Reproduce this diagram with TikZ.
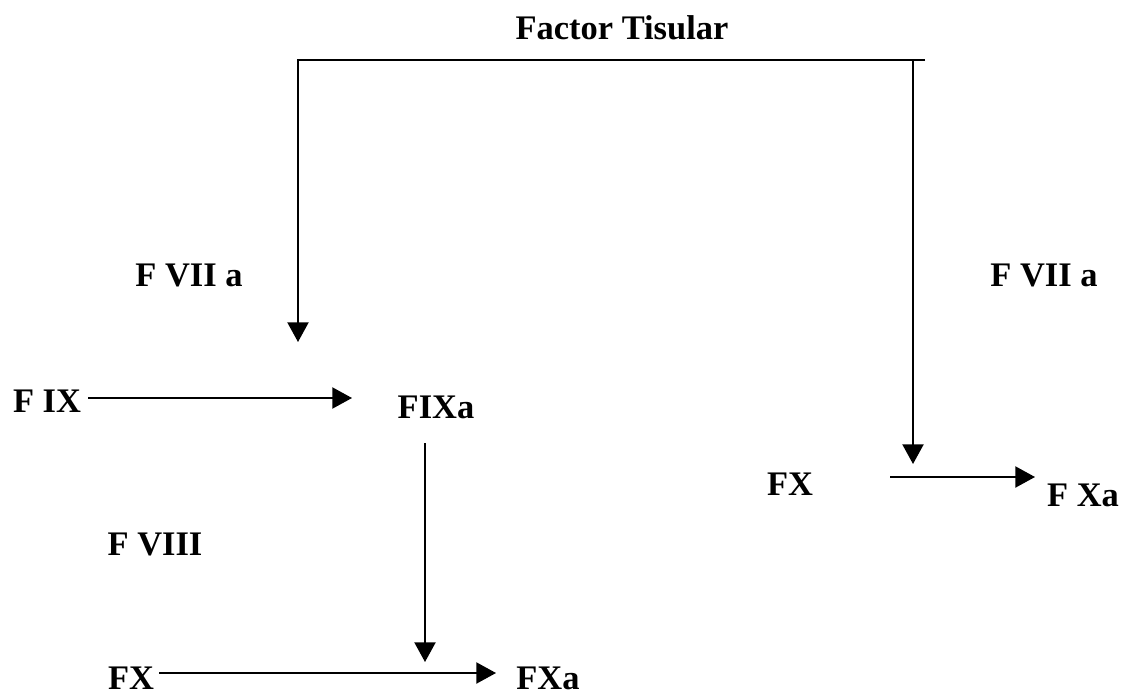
\documentclass[tikz,border=0pt]{standalone}
\usepackage{fontspec}
\setmainfont{Liberation Serif}
\usetikzlibrary{arrows.meta}

\begin{document}
\begin{tikzpicture}[
    x=0.025cm, y=-0.025cm,
    every node/.style={font=\bfseries\fontsize{24.5}{28}\selectfont, inner sep=0pt, anchor=base},
    arrow/.style={-{Triangle[length=14pt, width=15pt]}, line width=1.3pt}
]
\useasboundingbox (0,0) rectangle (1124,696);

% labels
\node (tisular) at (622,40) {Factor Tisular};
\node (fviial) at (189,286) {F VII a};
\node (fviiar) at (1044,286) {F VII a};
\node (fix) at (47,412) {F IX};
\node (fixa) at (436,418) {FIXa};
\node (fviii) at (155,555) {F VIII};
\node (fxl) at (131,689) {FX};
\node (fxal) at (548,689) {FXa};
\node (fxr) at (790,495) {FX};
\node (fxar) at (1083,506) {F Xa};

% connector ends
\coordinate (jl) at (298,60);
\coordinate (jr) at (913,60);
\coordinate (stub) at (925,60);
\coordinate (tipl) at (298,342);
\coordinate (tipr) at (913,464);
\coordinate (fixs) at (88,398);
\coordinate (fixt) at (352,398);
\coordinate (downs) at (425,443);
\coordinate (downt) at (425,662);
\coordinate (fxls) at (159,673);
\coordinate (fxlt) at (496,673);
\coordinate (fxrs) at (890,477);
\coordinate (fxrt) at (1035,477);

% Factor Tisular -> both sides
\draw[arrow] (stub) -- (jl) -- (tipl);
\draw[arrow] (jr) -- (tipr);

% F IX -> FIXa
\draw[arrow] (fixs) -- (fixt);

% FIXa -> down
\draw[arrow] (downs) -- (downt);

% FX -> FXa (left)
\draw[arrow] (fxls) -- (fxlt);

% FX -> F Xa (right)
\draw[arrow] (fxrs) -- (fxrt);

\end{tikzpicture}
\end{document}
